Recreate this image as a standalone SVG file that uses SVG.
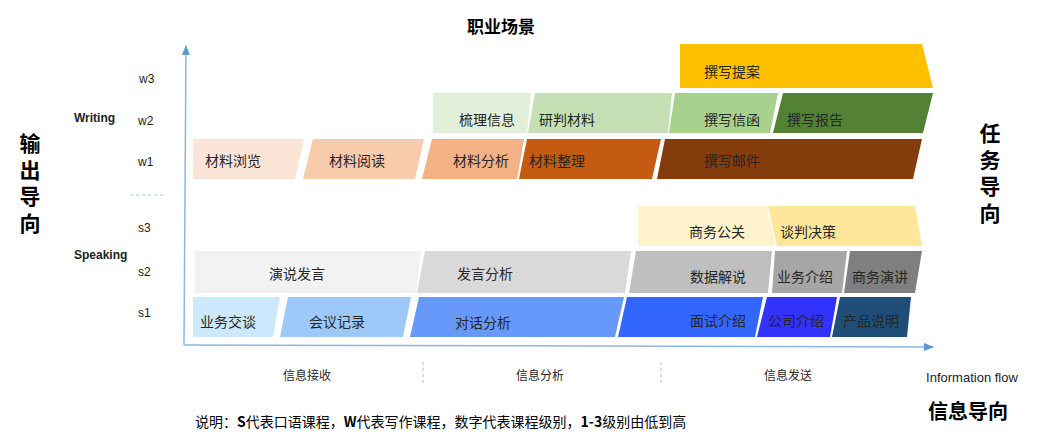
<svg xmlns="http://www.w3.org/2000/svg" width="1041" height="440" viewBox="0 0 1041 440">
<style>
text{font-family:"Noto Sans CJK SC","Liberation Sans",sans-serif;fill:#262626}
.n{font-size:14px;dominant-baseline:central}
.lab{font-size:12px;font-family:"Liberation Sans","Noto Sans",sans-serif;dominant-baseline:central;fill:#222}
.vert{font-size:21px;font-weight:bold;fill:#000;writing-mode:tb;text-anchor:middle;letter-spacing:5.5px}
.ax{stroke:#8DB6E2;stroke-width:1.5;fill:none}
.sep{stroke:#9DC3E6;stroke-width:1;stroke-dasharray:3,3;fill:none}
</style>
<defs>
<marker id="ah" viewBox="0 0 10 10" refX="9" refY="5" markerWidth="7" markerHeight="7" orient="auto-start-reverse">
<path d="M0,1 L10,5 L0,9 z" fill="#5B9BD5"/>
</marker>
</defs>

<g id="axes">
<line class="ax" x1="184" y1="345" x2="186" y2="46" marker-end="url(#ah)"/>
<line class="ax" x1="184" y1="345" x2="933" y2="347" marker-end="url(#ah)"/>
<line class="sep" x1="130" y1="195" x2="165" y2="195"/>
<line class="sep" x1="423" y1="362" x2="423" y2="384"/>
<line class="sep" x1="661" y1="362" x2="661" y2="384"/>
</g>

<text x="501" y="25" style="font-size:17px;font-weight:bold;fill:#000;text-anchor:middle;dominant-baseline:central">职业场景</text>

<g id="left-labels">
<text class="vert" x="30" y="186">输出导向</text>
<text class="lab" x="74" y="118" style="font-weight:bold">Writing</text>
<text class="lab" x="74" y="255" style="font-weight:bold">Speaking</text>
<text class="lab" x="139" y="79">w3</text>
<text class="lab" x="138" y="121">w2</text>
<text class="lab" x="138" y="162">w1</text>
<text class="lab" x="138" y="228">s3</text>
<text class="lab" x="138" y="272">s2</text>
<text class="lab" x="138" y="313">s1</text>
</g>

<g id="right-labels">
<text class="vert" x="990" y="176">任务导向</text>
<text class="lab" x="972" y="377" style="text-anchor:middle;font-size:13px">Information flow</text>
<text x="968" y="410" style="font-size:20px;font-weight:bold;fill:#000;text-anchor:middle;dominant-baseline:central">信息导向</text>
</g>

<g id="bottom-labels">
<text x="307" y="374" style="font-size:12px;text-anchor:middle;dominant-baseline:central">信息接收</text>
<text x="540" y="374" style="font-size:12px;text-anchor:middle;dominant-baseline:central">信息分析</text>
<text x="788" y="374" style="font-size:12px;text-anchor:middle;dominant-baseline:central">信息发送</text>
<text x="195" y="421" style="font-size:14px;fill:#000;dominant-baseline:central">说明：<tspan font-weight="bold">S</tspan>代表口语课程，<tspan font-weight="bold">W</tspan>代表写作课程，数字代表课程级别，<tspan font-weight="bold">1-3</tspan>级别由低到高</text>
</g>

<!-- Writing w3 -->
<g id="n-zhuanxietian">
<polygon points="680,44 922,44 933,88 680,88" fill="#FFC000"/>
<text class="n" x="704" y="71">撰写提案</text>
</g>

<!-- Writing w2 -->
<g id="n-shulixinxi">
<polygon points="433,93 531,93 527,133 433,133" fill="#E2F0D9"/>
<text class="n" x="459" y="119">梳理信息</text>
</g>
<g id="n-yanpancailiao">
<polygon points="535,93 672,93 668,133 528,133" fill="#C5E0B4"/>
<text class="n" x="539" y="119">研判材料</text>
</g>
<g id="n-zhuanxiexinhan">
<polygon points="675,93 778,93 770,133 669,133" fill="#A9D18E"/>
<text class="n" x="704" y="119">撰写信函</text>
</g>
<g id="n-zhuanxiebaogao">
<polygon points="783,93 933,93 923,133 773,133" fill="#548235"/>
<text class="n" x="787" y="119">撰写报告</text>
</g>

<!-- Writing w1 -->
<g id="n-cailiaoliulan">
<polygon points="193,139 304,139 295,179 193,179" fill="#FBE5D6"/>
<text class="n" x="205" y="160">材料浏览</text>
</g>
<g id="n-cailiaoyuedu">
<polygon points="313,139 424,139 415,179 303,179" fill="#F8CBAD"/>
<text class="n" x="329" y="160">材料阅读</text>
</g>
<g id="n-cailiaofenxi">
<polygon points="432,139 524,139 517,179 422,179" fill="#F4B183"/>
<text class="n" x="453" y="160">材料分析</text>
</g>
<g id="n-cailiaozhengli">
<polygon points="527,139 661,139 652,179 519,179" fill="#C55A11"/>
<text class="n" x="529" y="160">材料整理</text>
</g>
<g id="n-zhuanxieyoujian">
<polygon points="665,139 922,139 913,179 657,179" fill="#843C0C"/>
<text class="n" x="704" y="160">撰写邮件</text>
</g>

<!-- Speaking s3 -->
<g id="n-shangwugongguan">
<polygon points="638,206 767,206 775,246 638,246" fill="#FFF2CC"/>
<text class="n" x="689" y="231">商务公关</text>
</g>
<g id="n-tanpanjuece">
<polygon points="768,206 915,206 922,246 777,246" fill="#FFE699"/>
<text class="n" x="780" y="231">谈判决策</text>
</g>

<!-- Speaking s2 -->
<g id="n-yanshuofayan">
<polygon points="195,251 421,251 416,293 195,293" fill="#F2F2F2"/>
<text class="n" x="269" y="273">演说发言</text>
</g>
<g id="n-fayanfenxi">
<polygon points="425,251 631,251 625,293 417,293" fill="#D9D9D9"/>
<text class="n" x="457" y="273">发言分析</text>
</g>
<g id="n-shujujieshuo">
<polygon points="636,251 772,251 768,293 629,293" fill="#BFBFBF"/>
<text class="n" x="690" y="276">数据解说</text>
</g>
<g id="n-yewujieshao">
<polygon points="775,251 847,251 842,293 772,293" fill="#A6A6A6"/>
<text class="n" x="777" y="276">业务介绍</text>
</g>
<g id="n-shangwuyanjiang">
<polygon points="850,251 922,251 915,293 844,293" fill="#7F7F7F"/>
<text class="n" x="852" y="276">商务演讲</text>
</g>

<!-- Speaking s1 -->
<g id="n-yewujiaotan">
<polygon points="193,297 280,297 273,337 193,337" fill="#CDE8FD"/>
<text class="n" x="200" y="321">业务交谈</text>
</g>
<g id="n-huiyijilu">
<polygon points="288,297 411,297 403,337 280,337" fill="#9DC9F8"/>
<text class="n" x="309" y="321">会议记录</text>
</g>
<g id="n-duihuafenxi">
<polygon points="419,297 624,297 615,337 410,337" fill="#6699FA"/>
<text class="n" x="455" y="322">对话分析</text>
</g>
<g id="n-mianshijieshao">
<polygon points="627,297 763,297 755,337 618,337" fill="#3366FF"/>
<text class="n" x="690" y="320">面试介绍</text>
</g>
<g id="n-gongsijieshao">
<polygon points="767,297 837,297 830,337 757,337" fill="#3333FF"/>
<text class="n" x="768" y="320">公司介绍</text>
</g>
<g id="n-chanpinshuoming">
<polygon points="840,297 911,297 907,337 832,337" fill="#1F4E79"/>
<text class="n" x="843" y="320">产品说明</text>
</g>
</svg>
